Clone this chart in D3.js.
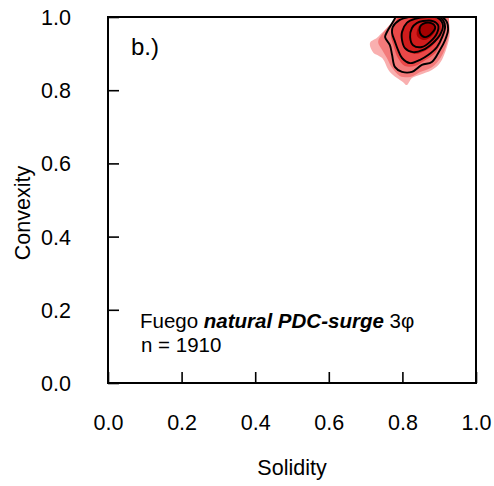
<!DOCTYPE html>
<html>
<head>
<meta charset="utf-8">
<script src="https://cdn.jsdelivr.net/npm/d3@7"></script>
<style>
  html, body { margin: 0; padding: 0; background: #fff; }
  svg { display: block; font-family: "Liberation Sans", Arial, sans-serif; }
</style>
</head>
<body>
<svg id="chart" width="494" height="486"></svg>
<script>
// ---- data (solidity, convexity) ----
const xTicks = [0.0, 0.2, 0.4, 0.6, 0.8, 1.0];
const yTicks = [0.0, 0.2, 0.4, 0.6, 0.8, 1.0];
const xLabel = "Solidity";
const yLabel = "Convexity";
const panelLabel = "b.)";
const sampleSize = 1910;

// filled density regions, outer (light) to inner (dark)
const fillLevel1 = [[0.802,1.014],[0.780,0.986],[0.747,0.959],[0.731,0.943],[0.712,0.929],[0.720,0.904],[0.745,0.888],[0.766,0.850],[0.802,0.822],[0.812,0.814],[0.826,0.833],[0.848,0.842],[0.880,0.855],[0.902,0.874],[0.921,0.918],[0.929,0.956],[0.924,0.992],[0.910,1.014]];
const fillLevel2 = [[0.793,1.014],[0.772,0.986],[0.747,0.956],[0.734,0.932],[0.745,0.910],[0.758,0.888],[0.772,0.861],[0.793,0.839],[0.821,0.836],[0.848,0.850],[0.880,0.863],[0.905,0.891],[0.921,0.929],[0.927,0.970],[0.918,1.014]];
const fillLevel3 = [[0.799,1.008],[0.777,0.978],[0.769,0.951],[0.777,0.918],[0.788,0.888],[0.807,0.866],[0.834,0.866],[0.864,0.883],[0.891,0.904],[0.908,0.937],[0.916,0.970],[0.908,1.000],[0.889,1.014]];
const fillLevel4 = [[0.812,0.986],[0.796,0.959],[0.799,0.932],[0.812,0.910],[0.834,0.899],[0.861,0.907],[0.886,0.926],[0.902,0.954],[0.905,0.981],[0.891,0.997],[0.861,1.000],[0.829,0.997]];
const fillLevel5 = [[0.842,0.970],[0.840,0.948],[0.859,0.937],[0.880,0.948],[0.891,0.970],[0.880,0.986],[0.859,0.986]];

// black contour lines, outer to inner
const contour1 = [[0.788,1.019],[0.780,0.997],[0.758,0.959],[0.753,0.945],[0.766,0.923],[0.772,0.896],[0.780,0.863],[0.799,0.850],[0.826,0.850],[0.853,0.869],[0.880,0.877],[0.902,0.910],[0.916,0.937],[0.924,0.964],[0.921,0.986],[0.910,1.000],[0.902,1.014]];
const contour2 = [[0.793,0.992],[0.774,0.973],[0.772,0.956],[0.780,0.932],[0.788,0.910],[0.799,0.888],[0.821,0.874],[0.848,0.883],[0.870,0.896],[0.894,0.918],[0.908,0.945],[0.916,0.973],[0.910,0.992],[0.894,1.003],[0.848,1.003],[0.818,1.000]];
const contour3 = [[0.812,0.984],[0.799,0.959],[0.799,0.937],[0.807,0.915],[0.829,0.904],[0.856,0.910],[0.883,0.929],[0.902,0.951],[0.910,0.978],[0.897,0.997],[0.867,1.000],[0.834,0.995]];
const contour4 = [[0.826,0.970],[0.821,0.945],[0.829,0.923],[0.853,0.918],[0.875,0.932],[0.894,0.956],[0.897,0.978],[0.883,0.989],[0.856,0.989],[0.840,0.984]];
const contour5 = [[0.848,0.973],[0.848,0.956],[0.861,0.945],[0.880,0.956],[0.889,0.973],[0.875,0.984],[0.856,0.981]];

const fills = [fillLevel1, fillLevel2, fillLevel3, fillLevel4, fillLevel5];
const fillColors = ["#F9AFAF", "#F37A7A", "#E94848", "#D01C1C", "#A60000"];
const contours = [contour1, contour2, contour3, contour4, contour5];

// ---- layout ----
const svg = d3.select("#chart");
const mLeft = 108, mRight = 476, mTop = 17, mBottom = 383;
const x = d3.scaleLinear().domain([0, 1]).range([mLeft, mRight]);
const y = d3.scaleLinear().domain([0, 1]).range([mBottom, mTop]);

svg.append("defs").append("clipPath").attr("id", "plotclip")
  .append("rect").attr("x", mLeft).attr("y", mTop - 1)
  .attr("width", mRight - mLeft).attr("height", mBottom - mTop + 1);

const line = d3.line().x(d => x(d[0])).y(d => y(d[1])).curve(d3.curveCatmullRomClosed.alpha(0.5));

const g = svg.append("g").attr("clip-path", "url(#plotclip)");
g.selectAll("path.fill").data(fills).join("path")
  .attr("class", "fill")
  .attr("d", line)
  .attr("fill", (d, i) => fillColors[i])
  .attr("stroke", "none");
g.selectAll("path.contour").data(contours).join("path")
  .attr("class", "contour")
  .attr("d", line)
  .attr("fill", "none")
  .attr("stroke", "#000")
  .attr("stroke-width", 1.9)
  .attr("stroke-linejoin", "round");

// axes (ticks inward, R style)
const tickLen = 11;
const xAxis = d3.axisBottom(x).tickValues(xTicks).tickFormat(d3.format(".1f"))
  .tickSizeInner(-tickLen).tickSizeOuter(0).tickPadding(tickLen + 21);
const yAxis = d3.axisLeft(y).tickValues(yTicks).tickFormat(d3.format(".1f"))
  .tickSizeInner(-tickLen).tickSizeOuter(0).tickPadding(tickLen + 26);

const gx = svg.append("g").attr("transform", `translate(0,${mBottom})`).call(xAxis);
const gy = svg.append("g").attr("transform", `translate(${mLeft},0)`).call(yAxis);
[gx, gy].forEach(ax => {
  ax.select(".domain").remove();
  ax.selectAll(".tick line").attr("stroke", "#000").attr("stroke-width", 1.6);
  ax.selectAll(".tick text").attr("fill", "#000")
    .style("font-size", "21.5px").style("font-family", "'Liberation Sans', Arial, sans-serif");
});
gy.selectAll(".tick text").attr("dy", "0.35em");

// box
svg.append("rect").attr("x", mLeft).attr("y", mTop)
  .attr("width", mRight - mLeft).attr("height", mBottom - mTop)
  .attr("fill", "none").attr("stroke", "#000").attr("stroke-width", 2);

// axis titles
svg.append("text").attr("x", (mLeft + mRight) / 2).attr("y", 475)
  .attr("text-anchor", "middle").style("font-size", "21.5px").text(xLabel);
svg.append("text").attr("transform", "translate(30,213) rotate(-90)")
  .attr("text-anchor", "middle").style("font-size", "21.5px").text(yLabel);

// panel label
svg.append("text").attr("x", 131).attr("y", 55).style("font-size", "24px").text(panelLabel);

// annotation
const ann = svg.append("text").attr("x", 140).attr("y", 328).style("font-size", "20.5px");
ann.append("tspan").text("Fuego ");
ann.append("tspan").style("font-weight", "bold").style("font-style", "italic").text("natural PDC-surge");
ann.append("tspan").text(" 3φ");
svg.append("text").attr("x", 141).attr("y", 352).style("font-size", "20.5px").text("n = " + sampleSize);
</script>
</body>
</html>
